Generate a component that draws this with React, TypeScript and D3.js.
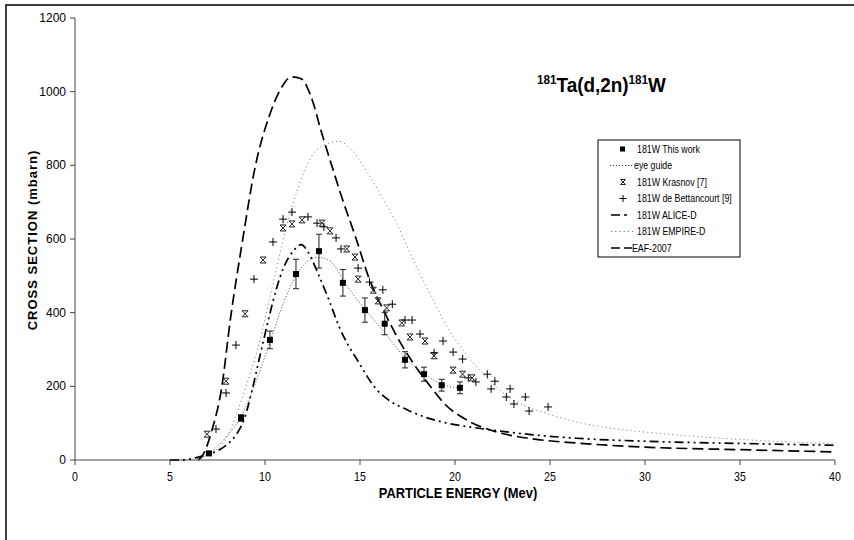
import React from "react";
import * as d3 from "d3";

// ---- data ----
const xTicks = [0, 5, 10, 15, 20, 25, 30, 35, 40];
const yTicks = [0, 200, 400, 600, 800, 1000, 1200];

// 181W This work: [energy, cross section, error]
const thisWork: [number, number, number][] = [
  [7.05, 18, 4], [8.74, 114, 9], [10.26, 326, 24], [11.63, 505, 40], [12.84, 567, 46],
  [14.1, 481, 36], [15.26, 407, 33], [16.3, 370, 30], [17.37, 272, 22], [18.37, 233, 19],
  [19.3, 203, 16], [20.26, 196, 16],
];

const eyeGuide: [number, number][] = [
  [6.5, 0], [7.05, 18], [8, 65], [8.74, 118], [9.5, 210], [10.26, 320], [11, 430], [11.63, 500],
  [12.2, 538], [12.7, 550], [13.2, 546], [13.7, 525], [14.1, 490], [14.7, 445], [15.26, 410],
  [16.3, 345], [17.37, 278], [18.37, 234], [19.3, 206], [20.26, 195],
];

const krasnov: [number, number][] = [
  [6.95, 70], [7.95, 214], [8.95, 397], [9.9, 543], [10.95, 630], [11.42, 641], [11.95, 652],
  [13.0, 643], [13.42, 622], [14.3, 573], [14.74, 551], [14.9, 491], [15.7, 461], [15.95, 432],
  [16.4, 413], [17.2, 372], [17.63, 334], [18.42, 323], [18.9, 283], [19.9, 244], [20.4, 233],
  [20.9, 223],
];

const bettancourt: [number, number][] = [
  [7.42, 84], [7.95, 182], [8.47, 312], [9.42, 491], [10.42, 592], [10.95, 654], [11.42, 673],
  [12.26, 660], [12.74, 643], [13.1, 633], [13.74, 603], [14.0, 573], [14.9, 521], [15.5, 483],
  [16.2, 462], [16.7, 423], [17.37, 380], [17.74, 380], [18.16, 342], [18.9, 291], [19.37, 323],
  [19.9, 293], [20.4, 274], [20.7, 223], [21.1, 212], [21.7, 233], [21.9, 193], [22.1, 214],
  [22.7, 171], [22.9, 193], [23.1, 152], [23.7, 171], [23.9, 133], [24.9, 144],
];

const aliceD: [number, number][] = [
  [5.0, 0], [5.5, 0], [6.0, 2], [6.5, 8], [7.0, 15], [7.5, 25], [8.0, 42], [8.5, 70], [8.9, 110],
  [9.3, 185], [9.7, 275], [10.2, 385], [10.6, 465], [11.0, 525], [11.5, 568], [11.9, 585],
  [12.3, 562], [12.8, 505], [13.4, 430], [13.9, 362], [14.4, 310], [14.9, 268], [15.4, 225],
  [15.9, 190], [16.5, 163], [17.5, 136], [18.5, 115], [19.6, 100], [21, 88], [22, 81], [24, 69],
  [26.4, 59], [30, 51], [35, 45], [40, 40],
];

const empireD: [number, number][] = [
  [6.0, 0], [7, 15], [8, 62], [8.5, 125], [9.0, 200], [9.63, 305], [10.42, 478], [11.16, 640],
  [11.84, 752], [12.5, 828], [13.2, 857], [13.9, 865], [14.5, 845], [15.4, 780], [16.2, 710],
  [16.95, 640], [17.8, 543], [18.5, 470], [19.6, 361], [21.3, 244], [23, 165], [24.8, 127],
  [26.4, 103], [28, 88], [30, 76], [35, 56], [40, 44],
];

const eaf2007: [number, number][] = [
  [6.5, 0], [6.8, 20], [7.2, 80], [7.7, 190], [8.2, 390], [8.8, 590], [9.5, 800], [10.2, 930],
  [10.8, 1005], [11.4, 1040], [11.9, 1035], [12.4, 990], [13.0, 885], [13.6, 785], [14.0, 720],
  [14.8, 600], [15.5, 490], [16.3, 400], [17.0, 330], [17.8, 263], [18.7, 200], [19.5, 150],
  [20.6, 109], [22.2, 76], [24, 58], [26.4, 46], [30, 35], [35, 28], [40, 22],
];

const legendLabels = [
  "181W This work", "eye guide", "181W Krasnov [7]", "181W de Bettancourt [9]",
  "181W ALICE-D", "181W EMPIRE-D", "EAF-2007",
];

// ---- layout ----
const W = 854, H = 540;
const x = d3.scaleLinear().domain([0, 40]).range([75, 835]);
const y = d3.scaleLinear().domain([0, 1200]).range([460, 18]);
const line = d3.line<[number, number]>().x(d => x(d[0])).y(d => y(d[1])).curve(d3.curveMonotoneX);

const font = "'Liberation Sans', Arial, Helvetica, sans-serif";

function KMark({ cx, cy, s = 3 }: { cx: number; cy: number; s?: number }) {
  return (
    <path
      d={`M${cx - s},${cy - s}L${cx + s},${cy + s}M${cx + s},${cy - s}L${cx - s},${cy + s}M${cx - s},${cy - s}L${cx + s},${cy - s}M${cx - s},${cy + s}L${cx + s},${cy + s}`}
      stroke="#222" strokeWidth={1} fill="none"
    />
  );
}
function Plus({ cx, cy, s = 4 }: { cx: number; cy: number; s?: number }) {
  return (
    <path d={`M${cx - s},${cy}L${cx + s},${cy}M${cx},${cy - s}L${cx},${cy + s}`} stroke="#000" strokeWidth={1} fill="none" />
  );
}

const styles = {
  eye: { stroke: "#555", strokeWidth: 0.9, dash: "1.2,1.8" },
  alice: { stroke: "#000", strokeWidth: 1.7, dash: "9,4,2,4,2,4" },
  empire: { stroke: "#8a8a8a", strokeWidth: 1, dash: "1.2,3" },
  eaf: { stroke: "#000", strokeWidth: 1.7, dash: "11,5" },
};

// narrow text helper (emulates a condensed face)
function NText({ x: tx, y: ty, sx = 0.85, children, ...rest }: any) {
  return (
    <g transform={`translate(${tx},${ty}) scale(${sx},1)`}>
      <text x={0} y={0} {...rest}>{children}</text>
    </g>
  );
}

export default function App() {
  const lx = 598, ly = 140, lw = 142, lh = 117;
  const rowY = (i: number) => 149 + i * 16.5;
  return (
    <svg width={W} height={H} style={{ position: "fixed", left: 0, top: 0, background: "#fff" }} fontFamily={font}>
      <rect x={0} y={0} width={W} height={H} fill="#fff" />
      {/* outer frame */}
      <rect x={6} y={5} width={900} height={600} fill="none" stroke="#000" strokeWidth={1.5} />

      {/* axes */}
      <line x1={75} x2={75} y1={y(1200)} y2={y(0)} stroke="#444" />
      <line x1={75} x2={835} y1={y(0)} y2={y(0)} stroke="#444" />
      {yTicks.map(t => (
        <g key={"y" + t}>
          <line x1={70} x2={75} y1={y(t)} y2={y(t)} stroke="#444" />
          <text x={66} y={y(t) + 4} textAnchor="end" fontSize={12} fill="#000">{t}</text>
        </g>
      ))}
      {xTicks.map(t => (
        <g key={"x" + t}>
          <line x1={x(t)} x2={x(t)} y1={460} y2={465} stroke="#444" />
          <NText x={x(t)} y={481} sx={0.85} textAnchor="middle" fontSize={12.5} fill="#000">{t}</NText>
        </g>
      ))}
      <NText x={458} y={498} sx={0.86} textAnchor="middle" fontSize={15} fontWeight="bold">PARTICLE ENERGY (Mev)</NText>
      <text transform="translate(37,240) rotate(-90)" textAnchor="middle" fontSize={13} fontWeight="bold" letterSpacing={1}>CROSS SECTION (mbarn)</text>

      {/* title */}
      <g transform="translate(537,92) scale(0.9,1)">
        <text x={0} y={0} fontWeight="bold" fill="#000">
          <tspan fontSize={13} dy={-8}>181</tspan>
          <tspan fontSize={21} dy={8}>Ta(d,2n)</tspan>
          <tspan fontSize={13} dy={-8}>181</tspan>
          <tspan fontSize={21} dy={8}>W</tspan>
        </text>
      </g>

      {/* model curves */}
      <path d={line(empireD) || ""} fill="none" stroke={styles.empire.stroke} strokeWidth={styles.empire.strokeWidth} strokeDasharray={styles.empire.dash} />
      <path d={line(eaf2007) || ""} fill="none" stroke={styles.eaf.stroke} strokeWidth={styles.eaf.strokeWidth} strokeDasharray={styles.eaf.dash} />
      <path d={line(aliceD) || ""} fill="none" stroke={styles.alice.stroke} strokeWidth={styles.alice.strokeWidth} strokeDasharray={styles.alice.dash} />
      <path d={line(eyeGuide) || ""} fill="none" stroke={styles.eye.stroke} strokeWidth={styles.eye.strokeWidth} strokeDasharray={styles.eye.dash} />

      {/* data points */}
      {krasnov.map((d, i) => <KMark key={"k" + i} cx={x(d[0])} cy={y(d[1])} />)}
      {bettancourt.map((d, i) => <Plus key={"b" + i} cx={x(d[0])} cy={y(d[1])} />)}
      {thisWork.map((d, i) => {
        const cx = x(d[0]);
        return (
          <g key={"t" + i}>
            <path d={`M${cx},${y(d[1] - d[2])}L${cx},${y(d[1] + d[2])}M${cx - 3},${y(d[1] - d[2])}L${cx + 3},${y(d[1] - d[2])}M${cx - 3},${y(d[1] + d[2])}L${cx + 3},${y(d[1] + d[2])}`} stroke="#222" strokeWidth={1} fill="none" />
            <rect x={cx - 3} y={y(d[1]) - 3} width={6} height={6} fill="#000" />
          </g>
        );
      })}

      {/* legend */}
      <rect x={lx} y={ly} width={lw} height={lh} fill="#fff" stroke="#000" strokeWidth={1} />
      <rect x={620} y={rowY(0) - 2.5} width={5} height={5} fill="#000" />
      <line x1={610} x2={634} y1={rowY(1)} y2={rowY(1)} stroke="#333" strokeWidth={0.9} strokeDasharray="1.2,1.8" />
      <KMark cx={623} cy={rowY(2)} s={2.5} />
      <Plus cx={623} cy={rowY(3)} s={3.5} />
      <line x1={611} x2={634} y1={rowY(4)} y2={rowY(4)} stroke="#000" strokeWidth={1.7} strokeDasharray="9,4,3,20" />
      <line x1={611} x2={634} y1={rowY(5)} y2={rowY(5)} stroke="#777" strokeWidth={1} strokeDasharray="1.2,3" />
      <line x1={611} x2={632} y1={rowY(6)} y2={rowY(6)} stroke="#000" strokeWidth={1.7} strokeDasharray="9,4" />
      {legendLabels.map((l, i) => (
        <NText key={l} x={i === 1 ? 634 : i === 6 ? 632 : 637} y={rowY(i) + 3.5} sx={0.88} fontSize={10} fill="#000">{l}</NText>
      ))}
    </svg>
  );
}
